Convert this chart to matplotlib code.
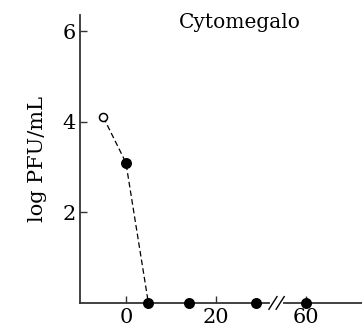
import numpy as np
import matplotlib.pyplot as plt
from matplotlib.lines import Line2D
from matplotlib.transforms import blended_transform_factory

# Virus titre after treatment (day 0); the axis is broken between 30 and 60 days
days = [-5, 0, 5, 14, 29, 60]
log_pfu = [4.1, 3.1, 0, 0, 0, 0]
filled = [False, True, True, True, True, True]
xtick_days = [0, 20, 60]
ytick_vals = [2, 4, 6]

BREAK_AT = 33.5   # where the // sits on the axis
BREAK_SHIFT = 20  # days removed from the axis by the break


def to_axis(d):
    d = np.asarray(d, dtype=float)
    return np.where(d > BREAK_AT, d - BREAK_SHIFT, d)


plt.rcParams['font.family'] = ['DejaVu Serif']

fig = plt.figure(figsize=(3.62, 3.34), dpi=100)
ax = fig.add_axes([0.221, 0.093, 0.779, 0.862])

x = to_axis(days)
y = np.array(log_pfu)

# dashed decline from the pre-treatment titre down to the detection floor
ax.plot(x[:3], y[:3], color='black', linestyle=(0, (4.5, 2.5)), linewidth=0.9, zorder=2)

for xi, yi, f in zip(x, y, filled):
    ax.plot(xi, yi, marker='o', markersize=6.8 if f else 5.8,
            markerfacecolor='black' if f else 'white',
            markeredgecolor='black', markeredgewidth=1.1,
            linestyle='none', clip_on=False, zorder=4)

ax.set_xlim(-10.2, 52.5)
ax.set_ylim(0, 6.36)

ax.set_xticks(to_axis(xtick_days))
ax.set_xticklabels([str(d) for d in xtick_days])
ax.set_yticks(ytick_vals)

for side in ('top', 'right'):
    ax.spines[side].set_visible(False)
for side in ('left', 'bottom'):
    ax.spines[side].set_linewidth(1.3)
    ax.spines[side].set_color('#333333')

ax.tick_params(direction='in', length=5, width=1.0, labelsize=15, pad=3, color='#333333')
ax.tick_params(axis='x', pad=4)

ax.set_ylabel('log PFU/mL', fontsize=15, labelpad=11)

title_trans = blended_transform_factory(ax.transAxes, ax.transData)
ax.text(0.567, 6.2, 'Cytomegalo', transform=title_trans,
        fontsize=14.5, ha='center', va='center')

# axis break marks
bx = BREAK_AT
trans = ax.get_xaxis_transform()
ax.add_line(Line2D([bx - 0.9, bx + 0.9], [0, 0], transform=trans, color='white',
                   linewidth=3, clip_on=False, zorder=3))
for off in (-0.8, 0.8):
    ax.add_line(Line2D([bx + off - 0.9, bx + off + 0.9], [-0.022, 0.022], transform=trans,
                       color='black', linewidth=1.0, clip_on=False, zorder=3))

fig.savefig('out.png', dpi=100)
